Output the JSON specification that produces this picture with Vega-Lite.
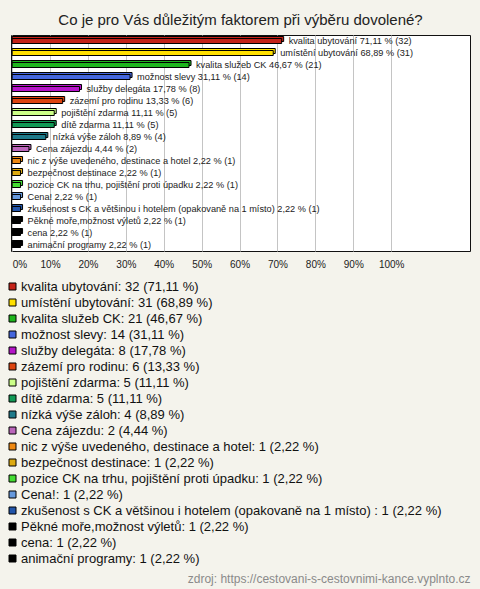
{
  "$schema": "https://vega.github.io/schema/vega-lite/v6.json",
  "background": "#F4F3EC",
  "padding": {"left": 6, "right": 10, "top": 12, "bottom": 4},
  "config": {
    "font": "Liberation Sans",
    "view": {"fill": "white", "stroke": "#111", "strokeWidth": 1}
  },
  "title": {
    "text": "zdroj: https://cestovani-s-cestovnimi-kance.vyplnto.cz",
    "orient": "bottom", "anchor": "end", "fontSize": 12, "fontWeight": "normal",
    "color": "#8a8a8a", "offset": 8, "font": "Liberation Sans"
  },
  "data": {
    "values": [
      {"name": "kvalita ubytování", "count": 32, "pct": 71.11, "label": "kvalita ubytování 71,11 % (32)", "legend": "kvalita ubytování: 32 (71,11 %)"},
      {"name": "umístění ubytování", "count": 31, "pct": 68.89, "label": "umístění ubytování 68,89 % (31)", "legend": "umístění ubytování: 31 (68,89 %)"},
      {"name": "kvalita služeb CK", "count": 21, "pct": 46.67, "label": "kvalita služeb CK 46,67 % (21)", "legend": "kvalita služeb CK: 21 (46,67 %)"},
      {"name": "možnost slevy", "count": 14, "pct": 31.11, "label": "možnost slevy 31,11 % (14)", "legend": "možnost slevy: 14 (31,11 %)"},
      {"name": "služby delegáta", "count": 8, "pct": 17.78, "label": "služby delegáta 17,78 % (8)", "legend": "služby delegáta: 8 (17,78 %)"},
      {"name": "zázemí pro rodinu", "count": 6, "pct": 13.33, "label": "zázemí pro rodinu 13,33 % (6)", "legend": "zázemí pro rodinu: 6 (13,33 %)"},
      {"name": "pojištění zdarma", "count": 5, "pct": 11.11, "label": "pojištění zdarma 11,11 % (5)", "legend": "pojištění zdarma: 5 (11,11 %)"},
      {"name": "dítě zdarma", "count": 5, "pct": 11.11, "label": "dítě zdarma 11,11 % (5)", "legend": "dítě zdarma: 5 (11,11 %)"},
      {"name": "nízká výše záloh", "count": 4, "pct": 8.89, "label": "nízká výše záloh 8,89 % (4)", "legend": "nízká výše záloh: 4 (8,89 %)"},
      {"name": "Cena zájezdu", "count": 2, "pct": 4.44, "label": "Cena zájezdu 4,44 % (2)", "legend": "Cena zájezdu: 2 (4,44 %)"},
      {"name": "nic z výše uvedeného, destinace a hotel", "count": 1, "pct": 2.22, "label": "nic z výše uvedeného, destinace a hotel 2,22 % (1)", "legend": "nic z výše uvedeného, destinace a hotel: 1 (2,22 %)"},
      {"name": "bezpečnost destinace", "count": 1, "pct": 2.22, "label": "bezpečnost destinace 2,22 % (1)", "legend": "bezpečnost destinace: 1 (2,22 %)"},
      {"name": "pozice CK na trhu, pojištění proti úpadku", "count": 1, "pct": 2.22, "label": "pozice CK na trhu, pojištění proti úpadku 2,22 % (1)", "legend": "pozice CK na trhu, pojištění proti úpadku: 1 (2,22 %)"},
      {"name": "Cena!", "count": 1, "pct": 2.22, "label": "Cena! 2,22 % (1)", "legend": "Cena!: 1 (2,22 %)"},
      {"name": "zkušenost s CK a většinou i hotelem (opakovaně na 1 místo) ", "count": 1, "pct": 2.22, "label": "zkušenost s CK a většinou i hotelem (opakovaně na 1 místo)  2,22 % (1)", "legend": "zkušenost s CK a většinou i hotelem (opakovaně na 1 místo) : 1 (2,22 %)"},
      {"name": "Pěkné moře,možnost výletů", "count": 1, "pct": 2.22, "label": "Pěkné moře,možnost výletů 2,22 % (1)", "legend": "Pěkné moře,možnost výletů: 1 (2,22 %)"},
      {"name": "cena", "count": 1, "pct": 2.22, "label": "cena 2,22 % (1)", "legend": "cena: 1 (2,22 %)"},
      {"name": "animační programy", "count": 1, "pct": 2.22, "label": "animační programy 2,22 % (1)", "legend": "animační programy: 1 (2,22 %)"}
    ]
  },
  "vconcat": [
    {
      "title": {
        "text": "Co je pro Vás důležitým faktorem při výběru dovolené?",
        "fontSize": 15, "fontWeight": "normal", "color": "#222", "offset": 7,
        "anchor": "middle", "font": "Liberation Sans"
      },
      "width": 459,
      "height": 216,
      "encoding": {
        "y": {"field": "name", "type": "nominal", "sort": null, "axis": null,
              "scale": {"paddingInner": 0, "paddingOuter": 0}},
        "x": {
          "field": "pct", "type": "quantitative",
          "scale": {"domain": [-0.3, 120.8], "nice": false, "zero": false},
          "axis": {
            "values": [0, 10, 20, 30, 40, 50, 60, 70, 80, 90, 100],
            "labelExpr": "datum.value + '%'",
            "grid": true, "gridColor": "#c4c4c4", "domain": false, "ticks": false,
            "labelFontSize": 10, "labelColor": "#222", "labelPadding": 8,
            "title": null, "labelFlush": 2
          }
        }
      },
      "layer": [
        {
          "mark": {"type": "bar", "height": 5, "xOffset": 2, "yOffset": -2, "stroke": "black", "strokeWidth": 1},
          "encoding": {
            "x2": {"datum": 0},
            "color": {
              "field": "legend", "type": "nominal",
              "scale": {
                "domain": [
                  "kvalita ubytování: 32 (71,11 %)", "umístění ubytování: 31 (68,89 %)", "kvalita služeb CK: 21 (46,67 %)",
                  "možnost slevy: 14 (31,11 %)", "služby delegáta: 8 (17,78 %)", "zázemí pro rodinu: 6 (13,33 %)",
                  "pojištění zdarma: 5 (11,11 %)", "dítě zdarma: 5 (11,11 %)", "nízká výše záloh: 4 (8,89 %)",
                  "Cena zájezdu: 2 (4,44 %)", "nic z výše uvedeného, destinace a hotel: 1 (2,22 %)", "bezpečnost destinace: 1 (2,22 %)",
                  "pozice CK na trhu, pojištění proti úpadku: 1 (2,22 %)", "Cena!: 1 (2,22 %)",
                  "zkušenost s CK a většinou i hotelem (opakovaně na 1 místo) : 1 (2,22 %)", "Pěkné moře,možnost výletů: 1 (2,22 %)",
                  "cena: 1 (2,22 %)", "animační programy: 1 (2,22 %)"
                ],
                "range": ["#C42218", "#FFE000", "#1DB51D", "#4466DD", "#B514C8", "#DD4410", "#CCFF88", "#119955", "#1E7A8A", "#BB66BB", "#EE8811", "#DDAA11", "#44DD33", "#6699DD", "#2255AA", "#000000", "#000000", "#000000"]
              },
              "legend": {
                "orient": "none", "legendX": -5, "legendY": 245, "title": null,
                "symbolType": "square", "symbolSize": 49, "symbolStrokeColor": "black", "symbolStrokeWidth": 1,
                "labelFontSize": 13, "labelColor": "#111", "labelLimit": 0, "rowPadding": 2, "labelOffset": 2,
                "labelFont": "Liberation Sans"
              }
            }
          }
        },
        {
          "mark": {"type": "bar", "height": 5, "stroke": "black", "strokeWidth": 1},
          "encoding": {
            "x2": {"datum": 0},
            "color": {"field": "legend", "type": "nominal"}
          }
        },
        {
          "mark": {"type": "text", "align": "left", "dx": 7, "fontSize": 9.2, "color": "#222", "font": "Liberation Sans"},
          "encoding": {"text": {"field": "label"}}
        }
      ]
    }
  ]
}
